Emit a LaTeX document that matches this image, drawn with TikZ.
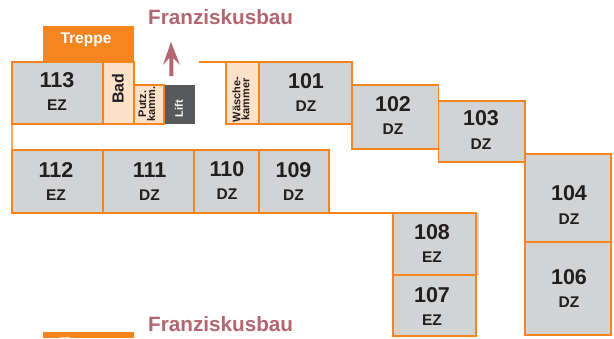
\documentclass[tikz,border=0pt]{standalone}
\usepackage{fontspec}
\setmainfont{Liberation Sans}
\definecolor{wall}{HTML}{F6851F}
\definecolor{stair}{HTML}{F6851F}
\definecolor{roomgrey}{HTML}{D1D3D4}
\definecolor{service}{HTML}{FDE1C8}
\definecolor{liftgrey}{HTML}{58595B}
\definecolor{rose}{HTML}{B5656F}
\definecolor{ink}{HTML}{231F20}
\tikzset{
  x=1pt,y=-1pt,
  roombox/.style={draw=wall,line width=1.3pt,fill=roomgrey,inner sep=0pt},
  servicebox/.style={draw=wall,line width=1.3pt,fill=service,inner sep=0pt},
  numlabel/.style={anchor=base,inner sep=0pt,text=ink,font=\fontsize{21.5}{22}\selectfont\bfseries},
  typelabel/.style={anchor=base,inner sep=0pt,text=ink,font=\fontsize{15.5}{16}\selectfont\bfseries},
  title/.style={anchor=base west,inner sep=0pt,text=rose,font=\fontsize{20.7}{22}\selectfont\bfseries},
  stairbox/.style={fill=stair,inner sep=0pt},
  stairlabel/.style={anchor=base,inner sep=0pt,text=white,font=\fontsize{15.5}{16}\selectfont\bfseries},
  smalllabel/.style={rotate=90,inner sep=0pt,align=center,text=ink,font=\fontsize{11}{9}\selectfont\bfseries},
  wallline/.style={draw=wall,line width=1.1pt}
}
% name, x0, y0, x1, y1, number, type, number x, number baseline, type x, type baseline
\newcommand{\roomat}[9]{%
  \path[roombox] (#2,#3) rectangle (#4,#5);
  \node[numlabel] (#1n) at (#7,#8) {#1};
  \node[typelabel] (#1t) at (#7,#9) {#6};
}
\begin{document}
\begin{tikzpicture}
\useasboundingbox (0,0) rectangle (614,338);
\fill[white] (0,0) rectangle (614,338);
% stairs
\path[stairbox,fill=stair] (43,26) rectangle (134,62);
\node[stairlabel] (treppeA) at (86,43.5) {Treppe};
\path[stairbox,fill=stair] (43,332) rectangle (134,338);
\node[stairlabel] (treppeB) at (86,348) {Treppe};
% titles
\node[title] (titleA) at (148,24) {Franziskusbau};
\node[title] (titleB) at (148,331) {Franziskusbau};
% arrow
\fill[rose] (169.3,76) -- (169.3,58) -- (163,65) -- (171,42) -- (180,65) -- (173.3,58) -- (173.3,76) -- cycle;
% corridor walls
\coordinate (w1) at (199,62);
\coordinate (w2) at (226,62);
\draw[wallline] (w1) -- (w2);
\coordinate (w3) at (12,124);
\coordinate (w4) at (12,150);
\draw[wallline,draw=wall!70] (w3) -- (w4);
\coordinate (w5) at (329,213);
\coordinate (w6) at (393,213);
\draw[wallline] (w5) -- (w6);
% service rooms
\path[servicebox] (103,62) rectangle (134,124);
\node[rotate=90,inner sep=0pt,text=ink,font=\fontsize{16}{16}\selectfont\bfseries] (bad) at (118,88.5) {Bad};
\path[servicebox] (134,85) rectangle (164,124);
\node[smalllabel] (putz) at (147,104) {Putz.\\kamm.};
\fill[liftgrey] (165,85) rectangle (195,124);
\node[rotate=90,inner sep=0pt,text=white,font=\fontsize{11}{10}\selectfont\bfseries] (lift) at (179,108.5) {Lift};
\path[servicebox] (226,62) rectangle (259,124);
\node[smalllabel] (wk) at (241,99.5) {Wäsche-\\kammer};
% shadow of room 108
\fill[roomgrey] (476,213) rectangle (479,275);
% rooms
\roomat{113}{12}{62}{103}{124}{EZ}{57}{87.5}{110}
\roomat{101}{259}{62}{352}{124}{DZ}{306}{88.5}{111}
\roomat{102}{352}{85}{438.5}{149}{DZ}{393}{111.5}{134}
\roomat{103}{438.5}{101}{525}{162}{DZ}{481}{125.5}{149}
\roomat{104}{525}{154}{611}{242}{DZ}{569}{200.5}{224}
\roomat{106}{525}{242}{611}{335}{DZ}{569}{284.5}{307}
\roomat{108}{393}{213}{476}{275}{EZ}{432}{239.5}{262}
\roomat{107}{393}{275}{476}{336}{EZ}{432}{302.5}{325}
\roomat{112}{12}{150}{103}{213}{EZ}{56}{177.5}{200}
\roomat{111}{103}{150}{194}{213}{DZ}{149.5}{177.5}{200}
\roomat{110}{194}{150}{259}{213}{DZ}{227}{176.5}{199}
\roomat{109}{259}{150}{329}{213}{DZ}{293.5}{177.5}{200}
\end{tikzpicture}
\end{document}
